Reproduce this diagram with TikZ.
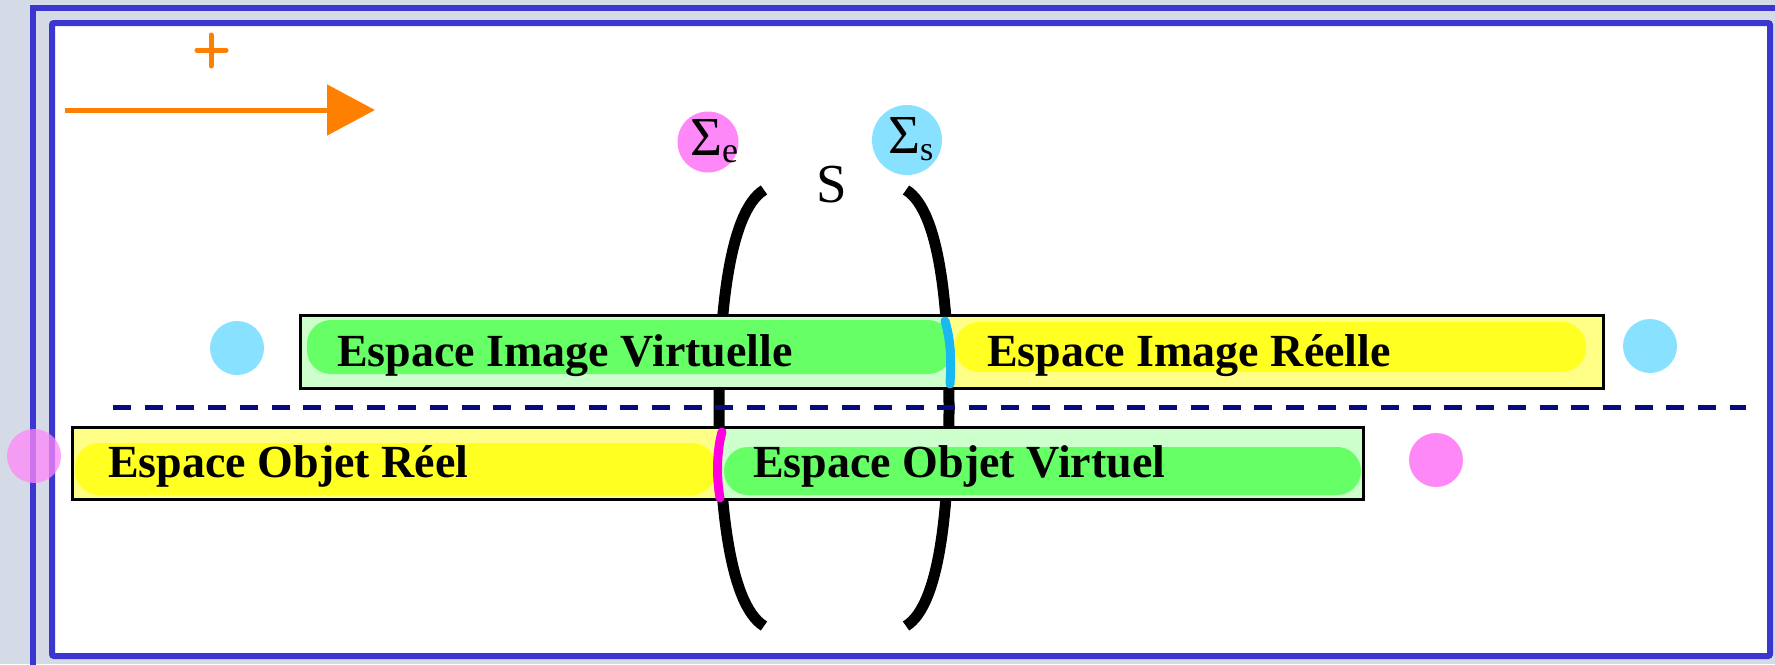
\documentclass[tikz,border=0pt]{standalone}
\usepackage{fontspec}
\setmainfont{Liberation Serif}
\usetikzlibrary{arrows.meta}

\definecolor{fond}{HTML}{D5DBE6}
\definecolor{bleu}{HTML}{3B36CF}
\definecolor{orangec}{HTML}{FF8000}
\definecolor{marine}{HTML}{0A0A80}
\definecolor{rose}{HTML}{FF88F8}
\definecolor{ciel}{HTML}{88E2FF}
\definecolor{cielm}{HTML}{18B8F0}
\definecolor{rosem}{HTML}{FF00E0}
\definecolor{vclair}{HTML}{CCFFCC}
\definecolor{vert}{HTML}{66FF66}
\definecolor{jclair}{HTML}{FFFF88}
\definecolor{jaune}{HTML}{FFFF22}

\begin{document}
\begin{tikzpicture}[x=1pt,y=-1pt,>={Triangle[length=48pt,width=50pt]},
  cadre/.style={draw=bleu, line width=6pt},
  dot/.style={circle, inner sep=0pt, minimum size=54pt},
  zone/.style={font=\fontsize{46}{46}\selectfont\bfseries, anchor=base west, inner sep=0pt},
  sig/.style={font=\fontsize{55}{55}\selectfont, anchor=base west, inner sep=0pt},
  hl/.style={rounded corners=24pt},
  lentille/.style={line width=11pt},
  bord/.style={draw=black, line width=3pt}]

  \useasboundingbox (0,0) rectangle (1775,664);
  \clip (0,0) rectangle (1775,664);
  \fill[fond] (0,0) rectangle (1775,664);

  % cadres
  \draw[cadre] (33,8) rectangle (1800,700);
  \draw[cadre, fill=white, rounded corners=2pt] (52,23) rectangle (1770,656);

  % sens positif
  \draw[orangec, line width=5pt, line cap=round] (197,50) -- (226,50) (211,35) -- (211,66);
  \coordinate (a0) at (65,110);
  \coordinate (a1) at (375,110);
  \draw[->, orangec, line width=5pt] (a0) -- (a1);

  % faces d'entree et de sortie
  \node[dot, fill=rose, minimum size=61pt] (ce) at (708,142) {};
  \node[dot, fill=ciel, minimum size=70pt] (cs) at (907,140) {};
  \node[sig] (se) at (690,155) {Σ\raisebox{-7pt}{\fontsize{36}{36}\selectfont e}};
  \node[sig] (ss) at (888,153) {Σ\raisebox{-7pt}{\fontsize{34}{34}\selectfont s}};
  \node[sig] (sys) at (816,202) {S};

  % systeme
  \draw[lentille] (764,190) .. controls (728,212) and (719,320) .. (719,408)
    .. controls (719,496) and (728,604) .. (764,626);
  \draw[lentille] (906,190) .. controls (942,212) and (949,320) .. (949,408)
    .. controls (949,496) and (942,604) .. (906,626);

  % axe
  \coordinate (x0) at (113,407);
  \coordinate (x1) at (1746,407);
  \draw[marine, line width=5pt, dash pattern=on 18pt off 13.7pt] (x0) -- (x1);

  % espace image
  \fill[vclair] (300,315) rectangle (948,388);
  \fill[jclair] (948,315) rectangle (1603,388);
  \fill[vert, hl] (307,320) rectangle (952,374);
  \fill[jaune, hl] (955,322) rectangle (1586,372);
  \draw[bord] (300,315) rectangle (1603,388);
  \draw[cielm, line width=9pt, line cap=round] (945,321) .. controls (952,345) and (951,365) .. (950,384);

  % espace objet
  \fill[jclair] (72,427) rectangle (720,499);
  \fill[vclair] (720,427) rectangle (1363,499);
  \fill[jaune, hl] (75,443) rectangle (716,495);
  \fill[vert, hl] (724,447) rectangle (1361,495);
  \draw[bord] (72,427) rectangle (1363,499);
  \draw[rosem, line width=9pt, line cap=round] (722,432) .. controls (717,450) and (716,475) .. (720,498);

  \node[zone] (iv) at (337,366) {Espace Image Virtuelle};
  \node[zone] (ir) at (987,366) {Espace Image Réelle};
  \node[zone] (or) at (108,477) {Espace Objet Réel};
  \node[zone] (ov) at (753,477) {Espace Objet Virtuel};

  % reperes
  \node[dot, fill=ciel] (d1) at (237,348) {};
  \node[dot, fill=ciel] (d2) at (1650,346) {};
  \node[dot, fill=rose, fill opacity=0.75] (d3) at (34,456) {};
  \node[dot, fill=rose] (d4) at (1436,460) {};
\end{tikzpicture}
\end{document}
